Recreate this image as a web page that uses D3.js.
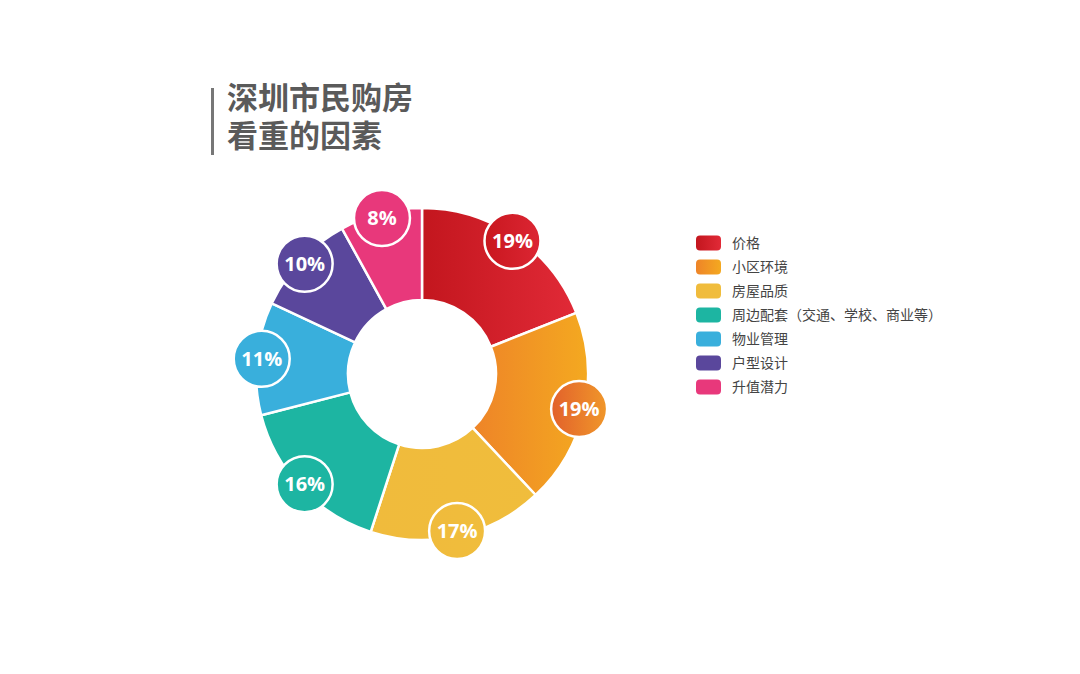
<!DOCTYPE html>
<html>
<head>
<meta charset="utf-8">
<script src="https://cdn.jsdelivr.net/npm/d3@7"></script>
<style>
  body { margin: 0; background: #fff; }
  svg { display: block; }
</style>
</head>
<body>
<div class="chart"></div>
<script>
const categories = ["价格", "小区环境", "房屋品质", "周边配套（交通、学校、商业等）", "物业管理", "户型设计", "升值潜力"];
const values = [19, 19, 17, 16, 11, 10, 8];
const colorsFrom = ["#c3161e", "#ee8428", "#f0bb3c", "#1db5a2", "#39afdc", "#5a479c", "#e8387b"];
const colorsTo = ["#e12a37", "#f4a920", "#f0bd3c", "#1db5a2", "#39afdc", "#5a479c", "#e8387b"];
const badgeFrom = ["#c9171f", "#e2612b", "#f0bb3c", "#1db5a2", "#39afdc", "#5a479c", "#e8387b"];
const badgeTo = ["#dc2633", "#f0972a", "#f0bd3c", "#1db5a2", "#39afdc", "#5a479c", "#e8387b"];
const titleLines = ["深圳市民购房", "看重的因素"];

const width = 1080, height = 674;
const cx = 422, cy = 374;
const outerR = 166, innerR = 74, labelR = 161;

const data = categories.map((c, i) => ({ name: c, value: values[i], i: i }));

const svg = d3
  .select(".chart")
  .append("svg")
  .attr("width", width)
  .attr("height", height);

const defs = svg.append("defs");

// gradient per slice and per badge
data.forEach((d) => {
  const g = defs
    .append("linearGradient")
    .attr("id", "seg" + d.i)
    .attr("x1", "0%").attr("x2", "100%").attr("y1", "0%").attr("y2", "0%");
  g.append("stop").attr("offset", "0%").attr("stop-color", colorsFrom[d.i]);
  g.append("stop").attr("offset", "100%").attr("stop-color", colorsTo[d.i]);

  const b = defs
    .append("linearGradient")
    .attr("id", "badge" + d.i)
    .attr("x1", "0%").attr("x2", "100%").attr("y1", "0%").attr("y2", "0%");
  b.append("stop").attr("offset", "0%").attr("stop-color", badgeFrom[d.i]);
  b.append("stop").attr("offset", "100%").attr("stop-color", badgeTo[d.i]);
});

// title with bar on the left
svg
  .append("rect")
  .attr("x", 211)
  .attr("y", 88)
  .attr("width", 3)
  .attr("height", 67)
  .attr("fill", "#777");

svg
  .append("g")
  .selectAll("text")
  .data(titleLines)
  .enter()
  .append("text")
  .attr("x", 227)
  .attr("y", (d, i) => 109 + i * 38)
  .attr("font-family", "'Noto Sans CJK SC', sans-serif")
  .attr("font-weight", "bold")
  .attr("font-size", 31)
  .attr("fill", "#5a5a5a")
  .text((d) => d);

const pie = d3.pie().value((d) => d.value).sort(null);
const arcs = pie(data);

const arc = d3.arc().innerRadius(innerR).outerRadius(outerR);

const chart = svg.append("g").attr("transform", `translate(${cx},${cy})`);

chart
  .selectAll("path")
  .data(arcs)
  .enter()
  .append("path")
  .attr("d", arc)
  .attr("fill", (d) => `url(#seg${d.data.i})`)
  .attr("stroke", "#fff")
  .attr("stroke-width", 2.5)
  .attr("stroke-linejoin", "round");

const labelArc = d3.arc().innerRadius(labelR).outerRadius(labelR);

const badges = chart
  .selectAll("g.badge")
  .data(arcs)
  .enter()
  .append("g")
  .attr("class", "badge")
  .attr("transform", (d) => `translate(${labelArc.centroid(d)})`);

badges
  .append("circle")
  .attr("r", 28)
  .attr("fill", (d) => `url(#badge${d.data.i})`)
  .attr("stroke", "#fff")
  .attr("stroke-width", 2.5);

badges
  .append("text")
  .attr("text-anchor", "middle")
  .attr("dy", "0.36em")
  .attr("font-family", "'Open Sans', sans-serif")
  .attr("font-weight", "bold")
  .attr("font-size", 20)
  .attr("fill", "#fff")
  .text((d) => d.data.value + "%");

// legend
const legend = svg
  .append("g")
  .attr("transform", "translate(696, 243)")
  .selectAll("g")
  .data(data)
  .enter()
  .append("g")
  .attr("transform", (d, i) => `translate(0, ${i * 24})`);

legend
  .append("rect")
  .attr("x", 0)
  .attr("y", -7.5)
  .attr("width", 25)
  .attr("height", 15)
  .attr("rx", 4)
  .attr("fill", (d) => `url(#seg${d.i})`);

legend
  .append("text")
  .attr("x", 36)
  .attr("dy", "0.36em")
  .attr("font-family", "'Noto Sans CJK SC', sans-serif")
  .attr("font-size", 14)
  .attr("fill", "#444")
  .text((d) => d.name);
</script>
</body>
</html>
